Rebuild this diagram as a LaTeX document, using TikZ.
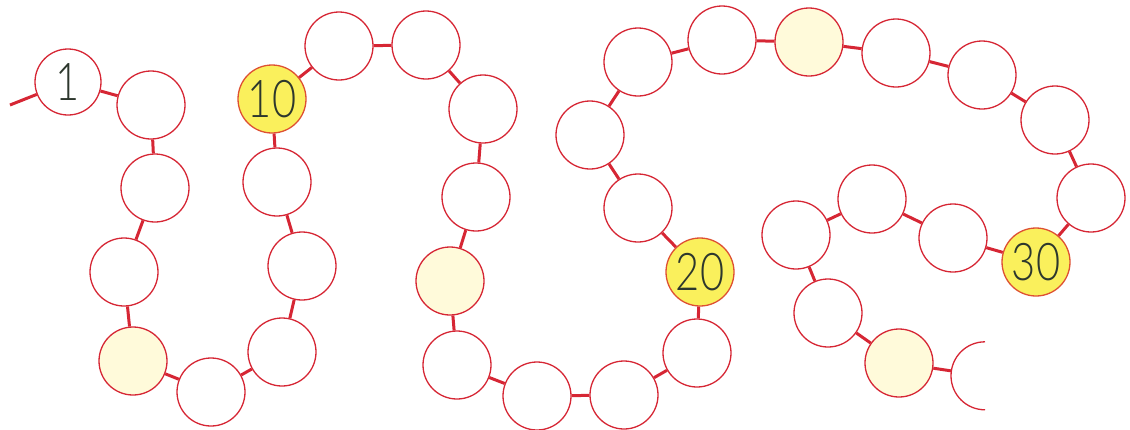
\documentclass[tikz,border=0pt]{standalone}
\usepackage{fontspec}
\setmainfont{Lato}[UprightFont={* Light}, FakeStretch=0.8]

\definecolor{rosso}{RGB}{214,38,52}
\definecolor{arancio}{RGB}{222,80,50}
\definecolor{giallo}{RGB}{250,240,92}
\definecolor{crema}{RGB}{255,250,218}
\definecolor{scritta}{RGB}{45,55,45}

\tikzset{
  cerchio/.style={circle, draw=rosso, line width=1.3pt, fill=white,
    minimum size=68pt, inner sep=0pt, text=scritta,
    font=\fontsize{52}{52}\selectfont},
  dieci/.style={cerchio, draw=arancio, fill=giallo},
  cinque/.style={cerchio, fill=crema},
  filo/.style={rosso, line width=3pt},
}

\begin{document}
\begin{tikzpicture}[x=1pt, y=-1pt]

    \useasboundingbox (0,0) rectangle (1130,429);

    % Cerchi
    \node[cerchio, minimum size=66pt] (c1) at (68,82) {1};
    \node[cerchio] (c2) at (151,105) {};
    \node[cerchio] (c3) at (155,188) {};
    \node[cerchio] (c4) at (124,272) {};
    \node[cinque] (c5) at (133,361) {};
    \node[cerchio] (c6) at (211,392) {};
    \node[cerchio] (c7) at (282,352) {};
    \node[cerchio] (c8) at (302,266) {};
    \node[cerchio] (c9) at (277,182) {};
    \node[dieci] (c10) at (272,99) {10};
    \node[cerchio] (c11) at (339,46) {};
    \node[cerchio] (c12) at (426,45) {};
    \node[cerchio] (c13) at (483,109) {};
    \node[cerchio] (c14) at (476,197) {};
    \node[cinque] (c15) at (450,281) {};
    \node[cerchio] (c16) at (457,365) {};
    \node[cerchio] (c17) at (537,396) {};
    \node[cerchio] (c18) at (624,395) {};
    \node[cerchio] (c19) at (697,353) {};
    \node[dieci] (c20) at (700,272) {20};
    \node[cerchio] (c21) at (638,208) {};
    \node[cerchio] (c22) at (590,135) {};
    \node[cerchio] (c23) at (638,62) {};
    \node[cerchio] (c24) at (722,40) {};
    \node[cinque] (c25) at (809,42) {};
    \node[cerchio] (c26) at (896,53) {};
    \node[cerchio] (c27) at (982,75) {};
    \node[cerchio] (c28) at (1055,120) {};
    \node[cerchio] (c29) at (1091,198) {};
    \node[dieci] (c30) at (1036,262) {30};
    \node[cerchio] (c31) at (953,238) {};
    \node[cerchio] (c32) at (872,199) {};
    \node[cerchio] (c33) at (796,235) {};
    \node[cerchio] (c34) at (828,313) {};
    \node[cinque] (c35) at (899,363) {};

    % Ultimo cerchio, tagliato
    \node[circle, minimum size=68pt, inner sep=0pt] (c36) at (985,376) {};
    \draw[rosso, line width=1.3pt] (c36.north) arc[start angle=90, end angle=270, radius=34pt];

    % Filo
    \coordinate (inizio) at (10,105);
    \draw[filo] (inizio) -- (c1);
    \foreach \a [evaluate=\a as \b using int(\a+1)] in {1,...,35}
        \draw[filo] (c\a) -- (c\b);

\end{tikzpicture}
\end{document}
